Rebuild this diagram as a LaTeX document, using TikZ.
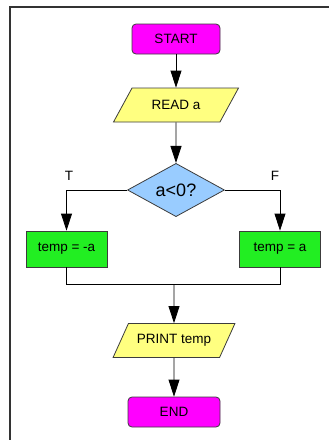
\documentclass[tikz,border=0pt]{standalone}
\usepackage{fontspec}
\setmainfont{Liberation Sans}
\usetikzlibrary{shapes.geometric,arrows.meta}
\usetikzlibrary{calc}
\definecolor{termcol}{RGB}{255,0,255}
\definecolor{iocol}{RGB}{255,255,128}
\definecolor{decol}{RGB}{153,204,255}
\definecolor{procol}{RGB}{34,238,34}
\definecolor{edgecol}{RGB}{60,60,60}
\newcommand{\txt}{\fontsize{13.5}{15}\selectfont}

\begin{document}
\begin{tikzpicture}[x=1pt,y=-1pt,
  term/.style={draw=edgecol,fill=termcol,rounded corners=4pt,minimum width=88pt,minimum height=30pt,font=\txt},
  io/.style={draw=edgecol,fill=iocol,trapezium,trapezium left angle=54,trapezium right angle=126,trapezium stretches=true,minimum height=34pt,font=\txt},
  dec/.style={draw=edgecol,fill=decol,diamond,inner sep=0pt,minimum width=97pt,minimum height=48pt,font=\fontsize{18}{20}\selectfont},
  proc/.style={draw=edgecol,fill=procol,minimum width=81pt,minimum height=36pt,font=\txt},
  arr/.style={-{Triangle[length=17pt,width=11pt]}},
  line width=0.8pt]
\useasboundingbox (0,0) rectangle (329,440);
% window edge
\draw[line width=1.5pt,black!80] (329,7) -- (10,7) -- (10,440);

\node[term] (start) at (176,39) {START};
\node[io,minimum width=126pt] (read) at (176,105) {READ a};
\node[dec] (test) at (176,190) {a<0?};
\node[proc] (neg) at (66.5,249) {temp = -a};
\node[proc] (pos) at (280,249) {temp = a};
\coordinate (join) at (174,284);
\node[io,minimum width=122pt] (print) at (174,340.5) {PRINT temp};
\node[term,minimum width=92pt] (stop) at (174,412) {END};

\node[font=\txt] (tlab) at (69,176) {T};
\node[font=\txt] (flab) at (275,176) {F};

\draw[arr] (start) -- (read);
\draw[arr] (read) -- (test);
\draw[arr] (test.west) -| (neg.north);
\draw[arr] (test.east) -| (pos.north);
\draw (neg.south) |- (join);
\draw (pos.south) |- (join);
\draw[arr] (join) -- (print);
\draw[arr] (print) -- (stop);
\end{tikzpicture}
\end{document}
